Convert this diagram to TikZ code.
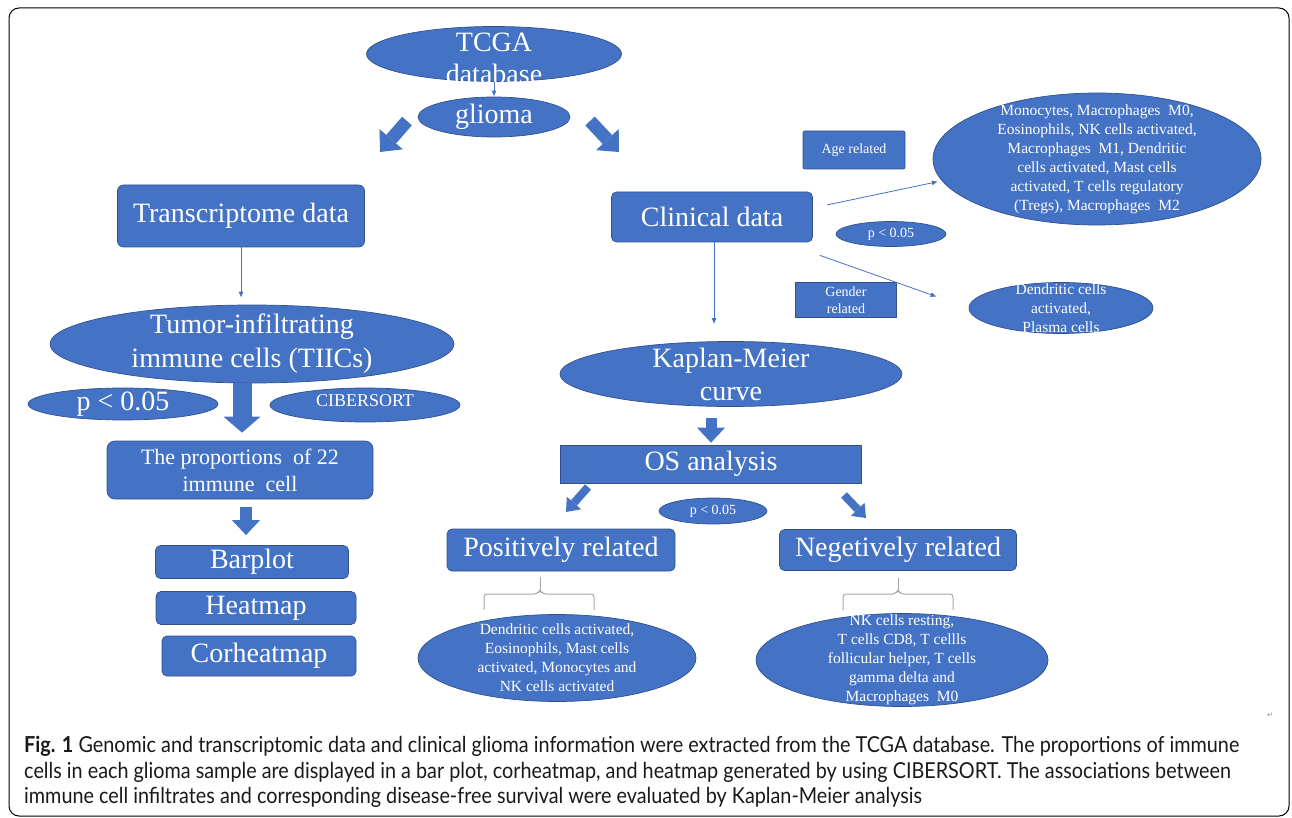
\documentclass[tikz,border=0pt]{standalone}
\usepackage{fontspec}
\setmainfont{Liberation Serif}
\newfontfamily\legende[FakeStretch=0.9]{Lato}
\newfontfamily\symb{DejaVu Sans}
\usetikzlibrary{shapes.geometric,arrows.meta}
\definecolor{bleu}{HTML}{4472C4}
\definecolor{bord}{HTML}{2F528F}
\newcommand\grand{\fontsize{28}{32}\selectfont}
\newcommand\moyen{\fontsize{22}{27}\selectfont}
\newcommand\petit{\fontsize{15.5}{19}\selectfont}
\newcommand\menu{\fontsize{14}{17}\selectfont}
\tikzset{
  boite/.style={rectangle, rounded corners=5pt, fill=bleu, draw=bord, line width=.7pt, inner sep=0pt, text=white},
  bulle/.style={ellipse, fill=bleu, draw=bord, line width=.7pt, inner sep=0pt},
  txt/.style={text=white, align=center, inner sep=0pt},
  fleche/.style={draw=bleu, line width=.8pt, -{Latex[length=6pt,width=5pt]}},
  bloc/.style={draw=bleu, line width=12pt, -{Triangle[length=15pt,width=28pt,line width=0pt]}},
  grosbloc/.style={draw=bleu, line width=19pt, -{Triangle[length=16pt,width=37pt,line width=0pt]}},
  diagbloc/.style={draw=bleu, line width=13pt, -{Triangle[length=17pt,width=31pt,line width=0pt]}},
  petitbloc/.style={draw=bleu, line width=8pt, -{Triangle[length=12pt,width=19pt,line width=0pt]}},
  accolade/.style={draw=gray!70, line width=1pt}
}
\begin{document}
\begin{tikzpicture}[x=1pt,y=-1pt]
    \useasboundingbox (0,0) rectangle (1292,818);
    \draw[line width=1pt, rounded corners=10pt] (9,8) rectangle (1289,816);
    % base et glioma
    \node[bulle, minimum width=255pt, minimum height=55pt,
      label={[txt,font=\grand,yshift=-4pt]center:TCGA\\database}] (tcga) at (494,54) {};
    \node[bulle, minimum width=152pt, minimum height=40pt,
      label={[txt,font=\grand]center:glioma}] (glioma) at (494,117) {};
    \draw[fleche] (tcga) -- (glioma);
    \coordinate (g1) at (407,121);
    \coordinate (g2) at (380,152);
    \coordinate (d1) at (590,121);
    \coordinate (d2) at (619,152);
    \draw[diagbloc] (g1) -- (g2);
    \draw[diagbloc] (d1) -- (d2);
    % branche gauche
    \node[boite, rounded corners=6pt, minimum width=247pt, minimum height=62pt, font=\grand] (trans) at (241,216) {Transcriptome data};
    \node[bulle, minimum width=404pt, minimum height=78pt,
      label={[txt,font=\fontsize{28}{34}\selectfont]center:Tumor-infiltrating\\immune cells (TIICs)}] (tiics) at (252,344) {};
    \draw[fleche, shorten >=7pt] (trans.south) -- (trans.south |- tiics.north);
    \node[bulle, minimum width=190pt, minimum height=32pt,
      label={[txt,font=\grand]center:p < 0.05}] (pgauche) at (123,404) {};
    \node[bulle, minimum width=190pt, minimum height=34pt,
      label={[txt,font=\fontsize{18}{20}\selectfont,yshift=4pt]center:CIBERSORT}] (cibersort) at (365,405) {};
    \node[boite, rounded corners=8pt, minimum width=266pt, minimum height=58pt, font=\moyen, align=center] (prop) at (240,470) {The proportions\ \ of 22\\immune\ \ cell};
    \draw[grosbloc, shorten >=8pt] ([xshift=2pt]tiics.south -| prop.north) -- ([xshift=2pt]prop.north);
    \node[boite, minimum width=193pt, minimum height=33pt, font=\grand] (barplot) at (252,562) {Barplot};
    \node[boite, minimum width=200pt, minimum height=33pt, font=\grand] (heatmap) at (256,608) {Heatmap};
    \node[boite, minimum width=194pt, minimum height=40pt, font=\grand] (corheatmap) at (259,656) {Corheatmap};
    \draw[bloc, shorten <=8pt, shorten >=10pt] ([xshift=6pt]prop.south) -- ([xshift=6pt]prop.south |- barplot.north);
    % branche droite
    \node[boite, minimum width=201pt, minimum height=50pt, font=\grand] (clin) at (712,217) {Clinical data};
    \node[boite, rounded corners=2pt, minimum width=102pt, minimum height=38pt, font=\menu] (age) at (854,150) {Age related};
    \node[bulle, minimum width=328pt, minimum height=132pt,
      label={[txt,font=\petit]center:Monocytes, Macrophages\ \ M0,\\Eosinophils, NK cells activated,\\Macrophages\ \ M1, Dendritic\\cells activated, Mast cells\\activated, T cells regulatory\\(Tregs), Macrophages\ \ M2}] (agecells) at (1097,159) {};
    \node[bulle, minimum width=110pt, minimum height=25pt,
      label={[txt,font=\menu]center:p < 0.05}] (pclin) at (891,234) {};
    \node[boite, rounded corners=0pt, minimum width=101pt, minimum height=35pt, font=\menu, align=center] (gender) at (846,300) {Gender\\related};
    \node[bulle, minimum width=184pt, minimum height=51pt,
      label={[txt,font=\petit]center:Dendritic cells\\activated,\\Plasma cells}] (dendcells) at (1061,308) {};
    \draw[fleche, shorten >=4pt] ([xshift=14pt,yshift=12pt]clin.east) -- (agecells.188);
    \draw[fleche, shorten >=34pt] ([xshift=7pt,yshift=-13pt]clin.south east) -- (dendcells.west);
    \node[bulle, minimum width=342pt, minimum height=65pt,
      label={[txt,font=\fontsize{28}{33}\selectfont]center:Kaplan-Meier\\curve}] (kaplan) at (731,374) {};
    \draw[fleche, shorten >=17pt] ([xshift=2pt]clin.south) -- ([xshift=2pt]clin.south |- kaplan.north);
    \node[boite, rounded corners=0pt, minimum width=301pt, minimum height=38pt, font=\grand] (os) at (711,464) {OS analysis};
    \draw[bloc, line width=11pt, shorten <=11pt, shorten >=2pt] (kaplan.south -| os.north) -- (os.north);
    \node[bulle, minimum width=108pt, minimum height=26pt,
      label={[txt,font=\menu]center:p < 0.05}] (pos_p) at (713,511) {};
    \node[boite, minimum width=228pt, minimum height=42pt, font=\grand] (pos) at (561,550) {Positively related};
    \node[boite, minimum width=237pt, minimum height=41pt, font=\grand] (neg) at (898,550) {Negetively related};
    \coordinate (o1) at (588,487);
    \coordinate (o2) at (566,512);
    \coordinate (o3) at (844,495);
    \coordinate (o4) at (866,518);
    \draw[petitbloc] (o1) -- (o2);
    \draw[petitbloc] (o3) -- (o4);
    % accolades
    \draw[accolade, rounded corners=3pt] (484,610) -- (484,594) -- (537,594) -- (540,590) -- (543,594) -- (594,594) -- (594,610);
    \draw[accolade] (540,590) -- (540,577);
    \draw[accolade, rounded corners=3pt] (843,610) -- (843,594) -- (895,594) -- (898,590) -- (901,594) -- (953,594) -- (953,610);
    \draw[accolade] (898,590) -- (898,578);
    \node[bulle, minimum width=278pt, minimum height=87pt,
      label={[txt,font=\petit]center:Dendritic cells activated,\\Eosinophils, Mast cells\\activated, Monocytes and\\NK cells activated}] (poscells) at (557,658) {};
    \node[bulle, minimum width=292pt, minimum height=93pt,
      label={[txt,font=\petit]center:NK cells resting,\\T cells CD8, T cellls\\follicular helper, T cells\\gamma delta and\\Macrophages\ \ M0}] (negcells) at (902,660) {};
    % legende
    \node[anchor=north west, align=left, inner sep=0pt, text=black!90,
      font=\legende\fontsize{22}{25.5}\selectfont] (caption) at (24,736)
      {\textbf{Fig. 1} Genomic and transcriptomic data and clinical glioma information were extracted from the TCGA database. The proportions of immune\\
       cells in each glioma sample are displayed in a bar plot, corheatmap, and heatmap generated by using CIBERSORT. The associations between\\
       immune cell infiltrates and corresponding disease-free survival were evaluated by Kaplan-Meier analysis};
    \node[text=gray, font=\symb\fontsize{7}{7}\selectfont] (retour) at (1270,715) {↵};
\end{tikzpicture}
\end{document}
